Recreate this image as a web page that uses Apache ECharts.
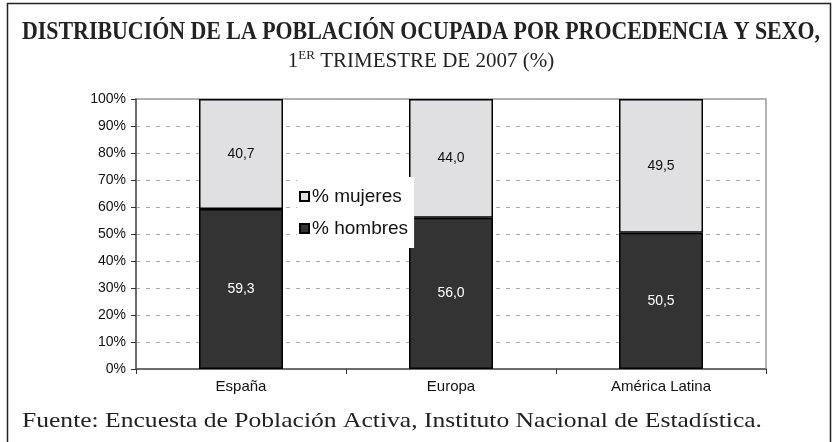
<!DOCTYPE html>
<html>
<head>
<meta charset="utf-8">
<script src="https://cdn.jsdelivr.net/npm/echarts@6/dist/echarts.min.js"></script>
<style>html,body{margin:0;padding:0;background:#fff}#c{width:833px;height:442px}</style>
</head>
<body>
<div id="c"></div>
<script>
var categories = ['España', 'Europa', 'América Latina'];
var hombres = [59.3, 56.0, 50.5];
var mujeres = [40.7, 44.0, 49.5];
var yTicks = [0, 10, 20, 30, 40, 50, 60, 70, 80, 90, 100];

var titleText = 'DISTRIBUCIÓN DE LA POBLACIÓN OCUPADA POR PROCEDENCIA Y SEXO,';
var footText = 'Fuente: Encuesta de Población Activa, Instituto Nacional de Estadística.';

function measure(txt, font) {
  var ctx = document.createElement('canvas').getContext('2d');
  ctx.font = font;
  return ctx.measureText(txt).width;
}
var titleFont = 'bold 26px "Liberation Serif"';
var titleScale = 798 / measure(titleText, titleFont);
var footFont = '21px "Liberation Serif"';
var footScale = 740 / measure(footText, footFont);

function fmt(v) { return v.toFixed(1).replace('.', ','); }

var chart = echarts.init(document.getElementById('c'));
chart.setOption({
  animation: false,
  backgroundColor: '#fff',
  grid: { left: 136, right: 67, top: 99, bottom: 73, show: true, borderColor: '#999', borderWidth: 1.5, backgroundColor: 'transparent' },
  legend: {
    orient: 'vertical', left: 297, top: 177,
    backgroundColor: '#fff', padding: [10, 6, 10, 2], itemGap: 13,
    icon: 'rect', itemWidth: 9, itemHeight: 9,
    data: ['% mujeres', '% hombres'],
    textStyle: { fontFamily: 'Liberation Sans', fontSize: 19, color: '#111', padding: [0, 0, 0, -2] }
  },
  xAxis: {
    type: 'category', data: categories,
    axisLine: { lineStyle: { color: '#555', width: 1.5 } },
    axisTick: { show: true, length: 5, alignWithLabel: false, lineStyle: { color: '#333' } },
    axisLabel: { fontFamily: 'Liberation Sans', fontSize: 15, color: '#111', margin: 10 },
    splitLine: { show: false }
  },
  yAxis: {
    type: 'value', min: 0, max: 100, interval: 10,
    axisLine: { show: true, lineStyle: { color: '#555', width: 1.5 } },
    axisTick: { show: true, length: 5, lineStyle: { color: '#333' } },
    axisLabel: { fontFamily: 'Liberation Sans', fontSize: 14, color: '#111', margin: 10,
      formatter: function (v) { return yTicks.indexOf(v) >= 0 ? v + '%' : ''; } },
    splitLine: { lineStyle: { color: '#aaa', type: [4, 6], width: 1 } }
  },
  series: [
    {
      name: '% hombres', type: 'bar', stack: 's', data: hombres, barWidth: '40%',
      itemStyle: { color: '#333333', borderColor: '#000', borderWidth: 1.5 },
      label: { show: true, position: 'inside', color: '#fff', fontFamily: 'Liberation Sans', fontSize: 14, formatter: function (p) { return fmt(p.value); } }
    },
    {
      name: '% mujeres', type: 'bar', stack: 's', data: mujeres, barWidth: '40%',
      itemStyle: { color: '#e0e0e2', borderColor: '#000', borderWidth: 1.5 },
      label: { show: true, position: 'inside', color: '#111', fontFamily: 'Liberation Sans', fontSize: 14, formatter: function (p) { return fmt(p.value); } }
    }
  ],
  graphic: [
    { type: 'rect', shape: { x: 7.5, y: 3.5, width: 823, height: 445 }, style: { fill: 'none', stroke: '#222', lineWidth: 1.5 }, z: 0, silent: true },
    { type: 'text', x: 421, y: 32, scaleX: titleScale, z: 10,
      style: { text: titleText, font: titleFont, fill: '#222', align: 'center', verticalAlign: 'middle' } },
    { type: 'text', x: 421, y: 61, z: 10,
      style: { text: '{a|1}{s|ER}{a| TRIMESTRE DE 2007 (%)}', align: 'center', verticalAlign: 'middle', fill: '#222',
        rich: { a: { fontFamily: 'Liberation Serif', fontSize: 21, color: '#222', lineHeight: 24 },
                s: { fontFamily: 'Liberation Serif', fontSize: 13, color: '#222', lineHeight: 24, verticalAlign: 'top', padding: [0, 0, 10, 0] } } } },
    { type: 'text', x: 22, y: 421, scaleX: footScale, z: 10,
      style: { text: footText, font: footFont, fill: '#222', align: 'left', verticalAlign: 'middle' } }
  ]
});
</script>
</body>
</html>
